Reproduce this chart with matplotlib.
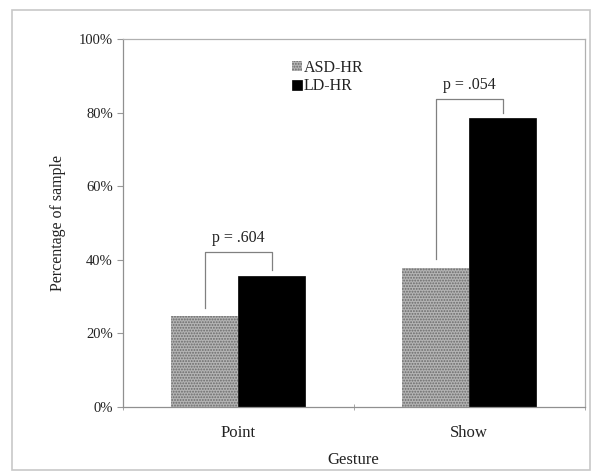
import matplotlib.pyplot as plt
import numpy as np
from matplotlib.patches import Rectangle

# gesture categories and group percentages
gestures = ["Point", "Show"]
groups = ["ASD-HR", "LD-HR"]
asd_hr = [24.6, 37.7]
ld_hr = [35.5, 78.5]
p_labels = ["p = .604", "p = .054"]

plt.rcParams['font.family'] = ['Liberation Serif', 'DejaVu Serif']
plt.rcParams['hatch.color'] = '#5e5e5e'
plt.rcParams['hatch.linewidth'] = 0.9

fig = plt.figure(figsize=(6, 4.75), dpi=100)
ax = fig.add_axes([122.5 / 600, 1 - 407 / 475, 462.3 / 600, 368 / 475])

# light frame round the whole figure
fig.patches.append(Rectangle((11.5 / 600, 5 / 475), 578 / 600, 460 / 475,
                             transform=fig.transFigure, fill=False,
                             edgecolor='#c8c8c8', linewidth=1.2))

x = np.arange(len(gestures))
w = 0.29
ax.bar(x - w / 2, asd_hr, w, color='#b4b4b4', edgecolor='#6a6a6a',
       hatch='......', linewidth=0, label=groups[0])
ax.bar(x + w / 2, ld_hr, w, color='black', edgecolor='black',
       linewidth=0.5, label=groups[1])

# significance brackets
tops = [42.2, 83.8]
left_ends = [27.0, 40.2]
right_ends = [37.3, 80.0]
for i in range(len(gestures)):
    xl, xr = x[i] - w / 2, x[i] + w / 2
    ax.plot([xl, xl, xr, xr], [left_ends[i], tops[i], tops[i], right_ends[i]],
            color='#808080', linewidth=0.9)
    ax.text(x[i], tops[i] + 1.6, p_labels[i], ha='center', va='bottom',
            fontsize=11.5, color='#222222')

ax.set_xlim(-0.5, 1.5)
ax.set_ylim(0, 100)
ax.set_yticks(np.arange(0, 101, 20))
ax.set_yticklabels([f"{v}%" for v in range(0, 101, 20)])
ax.set_xticks(x)
ax.set_xticklabels(gestures)
ax.set_xticks([-0.5, 0.5, 1.5], minor=True)
ax.tick_params(axis='x', which='major', length=0, pad=13, labelsize=12,
               colors='#222222')
ax.tick_params(axis='x', which='minor', length=4, color='#999999',
               direction='inout')
ax.tick_params(axis='y', length=4, color='#999999', labelsize=10.5,
               labelcolor='#222222', pad=3)

for s in ax.spines.values():
    s.set_color('#b0b0b0')
    s.set_linewidth(0.9)
ax.spines['left'].set_color('#909090')
ax.spines['bottom'].set_color('#909090')

ax.set_ylabel("Percentage of sample", fontsize=11.5, color='#222222', labelpad=9)
ax.set_xlabel("Gesture", fontsize=12, color='#222222', labelpad=8)

leg = ax.legend(loc='upper left', bbox_to_anchor=(0.35, 0.965), frameon=False,
                fontsize=11.5, handlelength=0.6, handleheight=0.6,
                handletextpad=0.1, labelspacing=0.15, borderpad=0)
for t in leg.get_texts():
    t.set_color('#222222')

fig.savefig("out.png", dpi=100)
